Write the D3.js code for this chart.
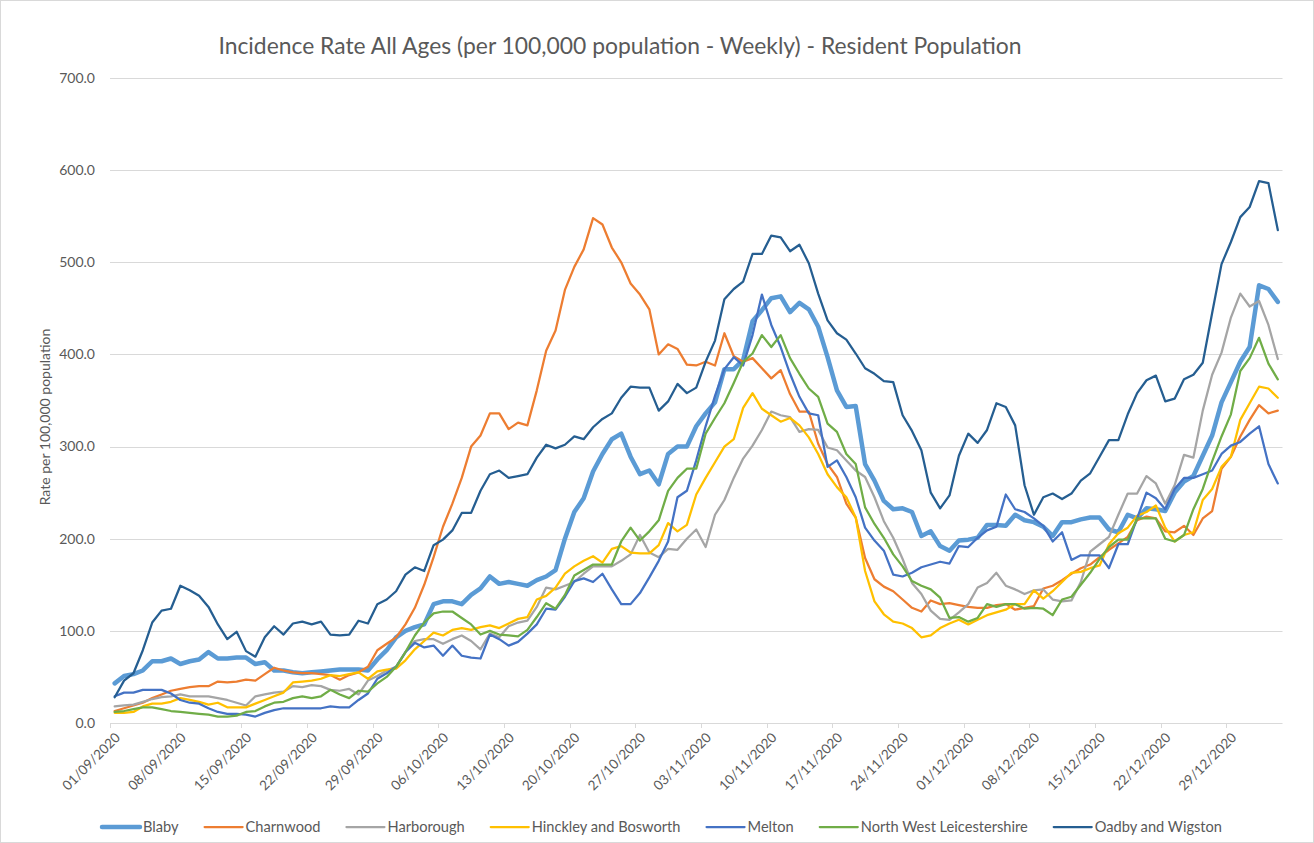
<!DOCTYPE html>
<html>
<head>
<meta charset="utf-8">
<script src="https://cdnjs.cloudflare.com/ajax/libs/d3/7.8.5/d3.min.js"></script>
<style>
  body { margin: 0; background: #fff; }
  svg { display: block; font-family: Lato, "Open Sans", sans-serif; }
</style>
</head>
<body>
<div id="chart"></div>
<script>
// Daily points, 01/09/2020 to 03/01/2021 (125 days)
const dates = d3.timeDay.range(new Date(2020, 8, 1), new Date(2021, 0, 4));

// weekly axis labels
const tickLabels = [
  "01/09/2020", "08/09/2020", "15/09/2020", "22/09/2020", "29/09/2020", "06/10/2020",
  "13/10/2020", "20/10/2020", "27/10/2020", "03/11/2020", "10/11/2020", "17/11/2020",
  "24/11/2020", "01/12/2020", "08/12/2020", "15/12/2020", "22/12/2020", "29/12/2020"
];

const seriesNames = ["Blaby", "Charnwood", "Harborough", "Hinckley and Bosworth",
                     "Melton", "North West Leicestershire", "Oadby and Wigston"];

const blaby = [
  43, 51, 53, 57, 67, 67, 70, 64, 67, 69, 77, 70, 70, 71, 71, 64, 66, 57, 57, 55, 54,
  55, 56, 57, 58, 58, 58, 57, 69, 79, 93, 100, 104, 107, 129, 132, 132, 129, 139, 146, 159, 151,
  153, 151, 149, 155, 159, 166, 200, 229, 244, 273, 292, 308, 314, 289,
  270, 274, 259, 292, 300, 300, 322, 336, 348, 384, 384, 394, 436,
  448, 461, 463, 446, 456, 449, 430, 397, 361, 343, 344, 281, 263, 241,
  232, 233, 229, 203, 208, 192, 187, 198, 199, 201, 215, 215, 214, 226,
  220, 218, 213, 203, 218, 218, 221, 223, 223, 210, 207, 226, 222, 233, 232, 230,
  250, 262, 268, 290, 312, 348, 370, 392, 408, 475, 471, 457
];
const charnwood = [
  13, 16, 19, 22, 27, 31, 35, 37, 39, 40, 40, 45, 44, 45, 47, 46, 53, 60, 57, 55, 54,
  54, 53, 52, 47, 52, 55, 61, 79, 86, 93, 107, 125, 150, 180, 213, 238, 266, 300, 312, 336, 336,
  319, 326, 323, 361, 404, 426, 470, 495, 514, 548, 541, 516, 500, 477,
  465, 449, 400, 411, 406, 389, 388, 392, 388, 423, 398, 392, 396,
  385, 374, 383, 357, 338, 338, 303, 281, 267, 238, 223, 179, 156, 148,
  143, 134, 125, 121, 133, 129, 130, 128, 126, 125, 125, 128, 129, 123,
  125, 127, 146, 149, 155, 162, 168, 172, 180, 188, 195, 202, 220, 224, 222, 208,
  207, 214, 204, 222, 230, 276, 289, 311, 329, 345, 336, 339
];
const harborough = [
  18, 19, 20, 23, 26, 28, 29, 31, 29, 29, 29, 27, 25, 22, 19, 29, 31, 33, 34, 40, 39,
  41, 40, 36, 35, 37, 31, 46, 51, 57, 61, 77, 89, 91, 91, 86, 91, 95, 89, 80, 97, 93,
  105, 109, 111, 126, 147, 145, 149, 153, 162, 170, 170, 170, 176, 183,
  204, 185, 180, 189, 188, 200, 210, 191, 226, 242, 266, 287, 301,
  318, 338, 334, 332, 316, 319, 318, 299, 296, 285, 274, 267, 245, 219,
  201, 178, 152, 140, 122, 113, 112, 120, 129, 147, 152, 163, 149, 145,
  140, 144, 145, 134, 132, 133, 153, 186, 194, 202, 226, 249, 249, 268, 260, 238,
  258, 291, 288, 339, 378, 402, 440, 466, 452, 458, 432, 395
];
const hinckley = [
  11, 11, 12, 18, 21, 21, 23, 27, 25, 23, 20, 22, 17, 17, 17, 21, 25, 29, 33, 44, 45,
  46, 48, 52, 51, 53, 55, 48, 56, 58, 59, 68, 80, 89, 98, 95, 101, 103, 101, 104, 106, 103,
  108, 113, 115, 134, 138, 147, 162, 170, 176, 181, 174, 189, 192, 185,
  184, 184, 193, 217, 208, 215, 248, 266, 283, 300, 308, 342, 358,
  341, 334, 327, 331, 323, 310, 292, 270, 256, 245, 223, 165, 132, 118,
  110, 108, 103, 93, 95, 103, 108, 112, 107, 112, 117, 120, 123, 129,
  129, 144, 135, 143, 153, 163, 164, 168, 171, 194, 206, 212, 225, 229, 236, 212,
  197, 204, 207, 242, 254, 278, 289, 329, 347, 365, 363, 353
];
const melton = [
  29, 33, 33, 36, 36, 36, 32, 25, 22, 21, 16, 12, 10, 10, 9, 7, 11, 14, 16, 16, 16,
  16, 16, 18, 17, 17, 25, 32, 48, 54, 61, 77, 87, 82, 84, 73, 84, 73, 71, 70, 96, 91,
  84, 88, 97, 107, 124, 123, 137, 154, 157, 153, 162, 145, 129, 129,
  141, 158, 176, 197, 245, 252, 285, 322, 355, 384, 397, 388, 421,
  465, 432, 408, 379, 354, 336, 334, 278, 285, 267, 245, 212, 198, 187,
  161, 159, 163, 169, 172, 175, 173, 192, 191, 201, 209, 213, 248, 232,
  229, 222, 214, 197, 207, 177, 182, 182, 182, 168, 194, 194, 222, 250, 244, 232,
  254, 266, 266, 270, 274, 292, 301, 305, 314, 322, 281, 260
];
const nwLeics = [
  12, 13, 15, 17, 17, 15, 13, 12, 11, 10, 9, 7, 7, 8, 12, 13, 18, 22, 23, 27, 29,
  27, 29, 36, 31, 27, 35, 34, 43, 50, 61, 77, 95, 109, 119, 121, 121, 114, 107, 96, 100, 96,
  95, 94, 101, 115, 130, 124, 139, 160, 166, 172, 172, 172, 197, 212,
  198, 208, 220, 252, 266, 276, 276, 314, 331, 347, 369, 392, 401,
  421, 408, 421, 396, 379, 363, 354, 325, 316, 292, 281, 234, 216, 201,
  183, 170, 154, 149, 145, 136, 114, 115, 110, 114, 129, 126, 129, 129,
  124, 125, 124, 117, 134, 137, 150, 163, 178, 191, 199, 199, 222, 222, 222, 200,
  197, 204, 232, 254, 284, 311, 335, 382, 396, 418, 390, 373
];
const oadby = [
  28, 46, 54, 79, 109, 122, 124, 149, 144, 138, 126, 107, 91, 99, 78, 72, 93, 105, 96, 108, 110,
  107, 110, 96, 95, 96, 111, 108, 129, 134, 143, 161, 169, 165, 193, 199, 209, 228, 228, 252, 270, 274,
  266, 268, 270, 288, 302, 298, 302, 311, 308, 321, 330, 336, 353, 365,
  364, 364, 339, 349, 368, 358, 364, 392, 415, 460, 471, 479, 509,
  509, 529, 527, 512, 519, 499, 466, 437, 423, 416, 401, 385, 379, 371,
  370, 334, 317, 296, 250, 233, 247, 290, 314, 304, 318, 347, 343, 323,
  258, 226, 245, 249, 243, 249, 263, 271, 289, 307, 307, 335, 358, 372, 377, 349,
  352, 373, 378, 391, 445, 498, 522, 549, 560, 588, 586, 535
];

const seriesValues = [blaby, charnwood, harborough, hinckley, melton, nwLeics, oadby];
const colors = ["#5B9BD5", "#ED7D31", "#A5A5A5", "#FFC000", "#4472C4", "#70AD47", "#255E91"];
const widths = [4.5, 2.25, 2.25, 2.25, 2.25, 2.25, 2.25];

const yTicks = [0, 100, 200, 300, 400, 500, 600, 700];

let width = 1314, height = 843;
let margin = { top: 78, bottom: 120, left: 110, right: 31.5 };

let svg = d3.select('#chart')
            .append('svg')
            .attr('width', width)
            .attr('height', height)
            .style('background', 'white');

// chart area border
svg.append('rect')
   .attr('x', 0.5).attr('y', 0.5)
   .attr('width', width - 1).attr('height', height - 1)
   .attr('fill', 'none')
   .attr('stroke', '#D9D9D9');

const x = d3.scaleBand()
            .domain(d3.range(dates.length))
            .range([margin.left, width - margin.right])
            .padding(0);
const bw = x.bandwidth();

const y = d3.scaleLinear()
            .domain([0, 700])
            .range([height - margin.bottom, margin.top]);

// gridlines
svg.append('g')
   .selectAll('line')
   .data(yTicks)
   .enter()
   .append('line')
   .attr('x1', margin.left)
   .attr('x2', width - margin.right)
   .attr('y1', d => Math.round(y(d)) + 0.5)
   .attr('y2', d => Math.round(y(d)) + 0.5)
   .attr('stroke', '#D9D9D9')
   .attr('stroke-width', 1);

// y labels
svg.append('g')
   .selectAll('text')
   .data(yTicks)
   .enter()
   .append('text')
   .attr('x', 95)
   .attr('y', d => y(d))
   .attr('dy', '0.35em')
   .attr('text-anchor', 'end')
   .attr('font-size', '14px')
   .attr('fill', '#595959')
   .text(d => d3.format('.1f')(d));

// x ticks (weekly)
const tickIdx = tickLabels.map((t, k) => k * 7);
svg.append('g')
   .selectAll('line')
   .data(tickIdx)
   .enter()
   .append('line')
   .attr('x1', d => Math.round(x(d)) + 0.5)
   .attr('x2', d => Math.round(x(d)) + 0.5)
   .attr('y1', y(0))
   .attr('y2', y(0) + 5)
   .attr('stroke', '#D9D9D9');

svg.append('g')
   .selectAll('text')
   .data(tickIdx)
   .enter()
   .append('text')
   .attr('transform', d => `translate(${x(d) + bw / 2 + 3}, ${y(0) + 12}) rotate(-45)`)
   .attr('text-anchor', 'end')
   .attr('dy', '0.35em')
   .attr('font-size', '13.5px')
   .attr('fill', '#595959')
   .text((d, k) => tickLabels[k]);

// y axis title
svg.append('text')
   .attr('transform', 'rotate(-90)')
   .attr('x', -417)
   .attr('y', 50)
   .attr('text-anchor', 'middle')
   .attr('font-size', '14px')
   .attr('fill', '#595959')
   .text('Rate per 100,000 population');

// title, sized to the original width
let title = svg.append('text')
   .attr('x', 620)
   .attr('y', 54)
   .attr('text-anchor', 'middle')
   .attr('font-size', '19px')
   .attr('fill', '#595959')
   .text('Incidence Rate All Ages (per 100,000 population - Weekly) - Resident Population');
let tw = title.node().getComputedTextLength();
title.attr('font-size', (19 * 803 / tw).toFixed(2) + 'px');

// lines
const line = d3.line()
               .x((d, i) => x(i) + bw / 2)
               .y(d => y(d));

svg.append('g')
   .selectAll('path')
   .data(seriesValues)
   .enter()
   .append('path')
   .attr('d', d => line(d))
   .attr('fill', 'none')
   .attr('stroke', (d, i) => colors[i])
   .attr('stroke-width', (d, i) => widths[i])
   .attr('stroke-linejoin', 'round')
   .attr('stroke-linecap', 'round');

// legend: text sized so the entries fill the same span as the original
const legend = svg.append('g');
const legY = 827;
const items = seriesNames.map((name, i) => {
  let t = legend.append('text')
                .attr('y', legY)
                .attr('dy', '0.35em')
                .attr('font-size', '13px')
                .attr('fill', '#595959')
                .text(name);
  return { t: t, i: i };
});
let total = d3.sum(items, d => d.t.node().getComputedTextLength());
const legFont = 13 * 677 / total;
items.forEach(d => {
  d.t.attr('font-size', legFont.toFixed(2) + 'px');
  d.w = d.t.node().getComputedTextLength();
});
const sampleW = 38, textGap = 3;
const used = d3.sum(items, d => sampleW + textGap + d.w);
const gap = (1222 - 102 - used) / (items.length - 1);
let cx = 102;
items.forEach(d => {
  legend.append('line')
        .attr('x1', cx).attr('x2', cx + sampleW)
        .attr('y1', legY).attr('y2', legY)
        .attr('stroke', colors[d.i])
        .attr('stroke-width', widths[d.i])
        .attr('stroke-linecap', 'round');
  d.t.attr('x', cx + sampleW + textGap);
  cx += sampleW + textGap + d.w + gap;
});
</script>
</body>
</html>
